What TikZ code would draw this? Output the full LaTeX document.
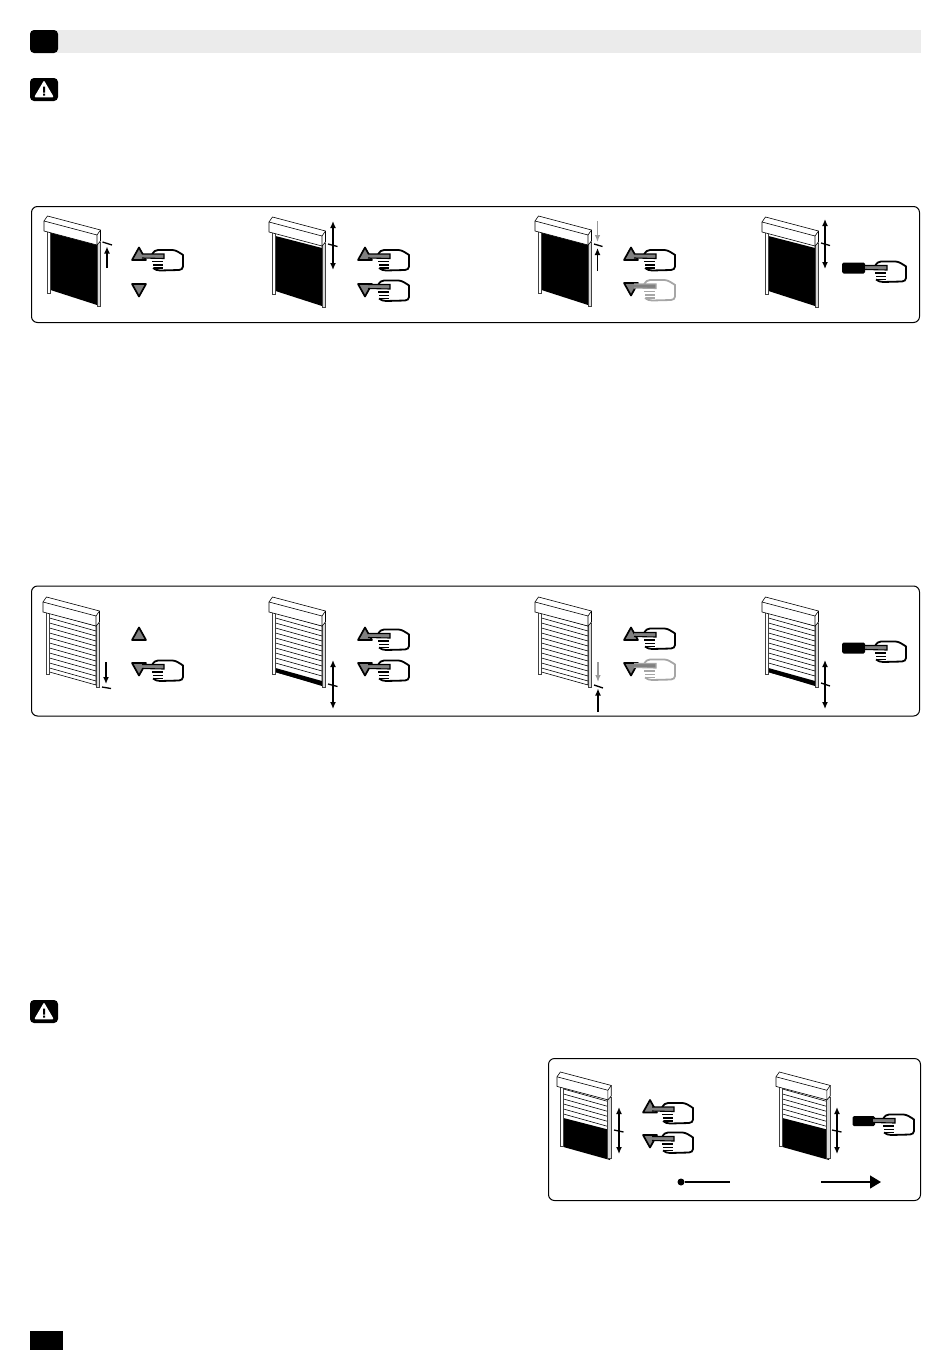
\documentclass[tikz,border=0pt]{standalone}
\usetikzlibrary{arrows.meta}
\begin{document}
\begin{tikzpicture}[
  x=1pt, y=-1pt,
  frame/.style={draw=black, line width=1pt, rounded corners=6pt, fill=white},
  tab/.style={fill=black, rounded corners=4pt},
  thinline/.style={draw=black, line width=0.6pt},
  railline/.style={draw=black!75, line width=0.8pt},
  btnline/.style={draw=black, fill=black!50, line width=1.7pt, line join=round},
  hardarrow/.style={draw=black, line width=1.3pt, -{Latex[length=7pt,width=6pt]}},
  softarrow/.style={draw=black!40, line width=1.2pt, -{Latex[length=7pt,width=5.5pt]}},
  twoway/.style={draw=black, line width=1.3pt, {Latex[length=7pt,width=6pt]}-{Latex[length=7pt,width=6pt]}},
  stopbar/.style={draw=black, line width=1.3pt},
  timeline/.style={draw=black, line width=1.3pt},
  % curtains of the shutter, all drawn from the corner of the housing
  pics/curtainfull/.style={code={
    \fill[black] (6.5,16) -- (53,28) -- (53,89) -- (6.5,74) -- cycle;
  }},
  pics/curtaingap/.style={code={
    \draw[thinline, fill=white] (6.5,15) -- (53,28) -- (53,33) -- (6.5,20) -- cycle;
    \fill[black] (6.5,19) -- (53,31) -- (53,89) -- (6.5,74) -- cycle;
  }},
  pics/curtainslats/.style={code={
    \draw[thinline, fill=white] (6.5,15) -- (53,28) -- (53,88) -- (6.5,75) -- cycle;
    \foreach \s in {0,...,11}
      \draw[thinline] (6.5,{16+\s*5}) -- (53,{29+\s*5});
  }},
  pics/curtainband/.style={code={
    \draw[thinline, fill=white] (6.5,15) -- (53,28) -- (53,88) -- (6.5,75) -- cycle;
    \foreach \s in {0,...,10}
      \draw[thinline] (6.5,{16+\s*5}) -- (53,{29+\s*5});
    \fill[black] (6.5,71) -- (53,84) -- (53,89) -- (6.5,75) -- cycle;
  }},
  pics/curtainhalf/.style={code={
    \draw[thinline, fill=white] (6.5,15) -- (53,28) -- (53,60) -- (6.5,48) -- cycle;
    \foreach \s in {0,...,5}
      \draw[thinline] (6.5,{17+\s*5}) -- (53,{30+\s*5});
    \fill[black] (6.5,46) -- (53,58) -- (53,88) -- (6.5,75) -- cycle;
  }},
  pics/shutter/.style={code={
    \pic {curtain#1};
    \draw[railline, fill=white] (3.5,15) rectangle (6.5,77);
    \draw[railline, fill=black!15] (53,26) rectangle (56.5,90);
    \draw[thinline, fill=white] (3.5,0) -- (56.5,14) -- (56.5,25) -- (53,29)
      -- (0,15) -- (0,5) -- cycle;
    \draw[thinline] (0,5) -- (53,19) -- (56.5,14) (53,19) -- (53,29);
  }},
  pics/btnup/.style={code={
    \draw[btnline] (0,-6.5) -- (7,6) -- (-7,6) -- cycle;
  }},
  pics/btndown/.style={code={
    \draw[btnline] (0,6.5) -- (7,-6) -- (-7,-6) -- cycle;
  }},
  pics/hand/.style={code={
    \draw[draw=#1, fill=white, line width=1.8pt]
      (10,-2) .. controls (12,-5) and (13,-6.5) .. (16,-6.5) -- (30.5,-6.5)
      .. controls (34,-6.5) and (38,-3.5) .. (41,-1.5) -- (41,10)
      .. controls (41,12) and (39,13.5) .. (37,13.5) -- (18,14)
      .. controls (15,14) and (13,13) .. (11,11.5);
    \draw[draw=#1, fill=black!50, line width=1.1pt] (0,-2.5) -- (22,-2.5) -- (22,2) -- (0,1.5);
    \draw[draw=#1, line width=1.7pt] (10,5) -- (21,5) (11,8.5) -- (21,8.5) (12,11.5) -- (21,11.5);
  }},
  pics/warnsign/.style={code={
    \fill[black, rounded corners=4pt] (0,0) rectangle (28,23);
    \draw[white, line join=round, line width=1.6pt, fill=white] (14,4) -- (22.5,18.5) -- (5.5,18.5) -- cycle;
    \fill[black] (13,8.5) rectangle (15,14.5) (13,15.5) rectangle (15,17.5);
  }}
]

\useasboundingbox (0,0) rectangle (950,1357);

% --- Heading strip ---
\fill[black!8] (50,30) rectangle (921,53);
\fill[tab] (30,30) rectangle (58,53);
\pic (warn1) at (30,78) {warnsign};
\pic (warn2) at (30,1000) {warnsign};
\fill[black] (30,1331) rectangle (63,1350);

% --- Frames ---
\node[frame, anchor=north west, minimum width=888pt, minimum height=116pt, inner sep=0pt] (top) at (31,206) {};
\node[frame, anchor=north west, minimum width=888pt, minimum height=130pt, inner sep=0pt] (mid) at (31,585.5) {};
\node[frame, anchor=north west, minimum width=372pt, minimum height=142pt, inner sep=0pt] (low) at (548,1058) {};

% =========================================================
% TOP PANEL
% =========================================================
\pic (s1) at (44,216) {shutter=full};
\pic (s2) at (269,217) {shutter=gap};
\pic (s3) at (535,216) {shutter=full};
\pic (s4) at (762,217) {shutter=gap};

% Buttons
\pic (b1u) at (139,254) {btnup};
\pic (b1d) at (139,290) {btndown};
\pic (b2u) at (365,254) {btnup};
\pic (b2d) at (365,290) {btndown};
\pic (b3u) at (631,254) {btnup};
\pic (b3d) at (631,289) {btndown};
\fill[black, rounded corners=1.5pt] (842,262.5) rectangle (865,273.5);

% Hands
\pic (h1) at (142,256.5) {hand=black};
\pic (h2u) at (368,256.5) {hand=black};
\pic (h2d) at (368,287) {hand=black};
\pic (h3u) at (634,256.5) {hand=black};
\pic (h3d) at (634,286.5) {hand=black!35};
\pic (h4) at (865,268) {hand=black};

% Travel marks
\coordinate (a1s) at (107,268);
\coordinate (a1e) at (107,246.5);
\draw[hardarrow] (a1s) -- (a1e);
\coordinate (t1l) at (102.5,242);
\coordinate (t1r) at (112,245);
\draw[stopbar] (t1l) -- (t1r);

\coordinate (a2s) at (333,221);
\coordinate (a2e) at (333,270);
\draw[twoway] (a2s) -- (a2e);
\coordinate (t2l) at (328,244);
\coordinate (t2r) at (337.5,246.5);
\draw[stopbar] (t2l) -- (t2r);

\coordinate (a3s) at (597.5,221);
\coordinate (a3e) at (597.5,242);
\draw[softarrow] (a3s) -- (a3e);
\coordinate (a3t) at (597.5,271);
\coordinate (a3b) at (597.5,248);
\draw[hardarrow] (a3t) -- (a3b);
\coordinate (t3l) at (594,244);
\coordinate (t3r) at (602.5,246.5);
\draw[stopbar] (t3l) -- (t3r);

\coordinate (a4s) at (825,219);
\coordinate (a4e) at (825,269);
\draw[twoway] (a4s) -- (a4e);
\coordinate (t4l) at (821,243);
\coordinate (t4r) at (830,245.5);
\draw[stopbar] (t4l) -- (t4r);

% =========================================================
% MIDDLE PANEL
% =========================================================
\pic (s5) at (43,597) {shutter=slats};
\pic (s6) at (269,597) {shutter=band};
\pic (s7) at (535,597) {shutter=slats};
\pic (s8) at (762,597) {shutter=band};

% Buttons
\pic (b5u) at (139,634) {btnup};
\pic (b5d) at (139,669) {btndown};
\pic (b6u) at (365,634) {btnup};
\pic (b6d) at (365,669) {btndown};
\pic (b7u) at (631,634) {btnup};
\pic (b7d) at (631,669) {btndown};
\fill[black, rounded corners=1.5pt] (842,642.5) rectangle (865,653.5);

% Hands
\pic (h5) at (142,667) {hand=black};
\pic (h6u) at (368,636) {hand=black};
\pic (h6d) at (368,667) {hand=black};
\pic (h7u) at (634,635) {hand=black};
\pic (h7d) at (634,666) {hand=black!35};
\pic (h8) at (865,648) {hand=black};

% Travel marks
\coordinate (a5s) at (106,662);
\coordinate (a5e) at (106,684);
\draw[hardarrow] (a5s) -- (a5e);
\coordinate (t5l) at (102,687);
\coordinate (t5r) at (111,688.5);
\draw[stopbar] (t5l) -- (t5r);

\coordinate (a6s) at (333,660);
\coordinate (a6e) at (333,709);
\draw[twoway] (a6s) -- (a6e);
\coordinate (t6l) at (328,684);
\coordinate (t6r) at (337.5,686.5);
\draw[stopbar] (t6l) -- (t6r);

\coordinate (a7s) at (598,662);
\coordinate (a7e) at (598,682);
\draw[softarrow] (a7s) -- (a7e);
\coordinate (a7t) at (598,712);
\coordinate (a7b) at (598,688.5);
\draw[hardarrow] (a7t) -- (a7b);
\coordinate (t7l) at (594,685);
\coordinate (t7r) at (603,688);
\draw[stopbar] (t7l) -- (t7r);

\coordinate (a8s) at (825,660);
\coordinate (a8e) at (825,709);
\draw[twoway] (a8s) -- (a8e);
\coordinate (t8l) at (821,683);
\coordinate (t8r) at (830,686);
\draw[stopbar] (t8l) -- (t8r);

% =========================================================
% LOWER PANEL
% =========================================================
\pic[scale=0.96] (s9) at (557,1072) {shutter=half};
\pic[scale=0.96] (s10) at (776,1072) {shutter=half};

\pic (b9u) at (650,1106.5) {btnup};
\pic (b9d) at (650,1141) {btndown};
\fill[black, rounded corners=1.5pt] (852.5,1116) rectangle (875,1126);

\pic (h9u) at (652,1109.5) {hand=black};
\pic (h9d) at (652,1139) {hand=black};
\pic (h10) at (873,1121) {hand=black};

\coordinate (a9s) at (619,1107);
\coordinate (a9e) at (619,1154);
\draw[twoway] (a9s) -- (a9e);
\coordinate (t9l) at (614,1130);
\coordinate (t9r) at (623.5,1132);
\draw[stopbar] (t9l) -- (t9r);

\coordinate (a10s) at (837,1107);
\coordinate (a10e) at (837,1154);
\draw[twoway] (a10s) -- (a10e);
\coordinate (t10l) at (832,1130);
\coordinate (t10r) at (841.5,1132);
\draw[stopbar] (t10l) -- (t10r);

% Time line, in two pieces
\node[circle, fill=black, inner sep=0pt, minimum size=7pt] (dot) at (681,1182) {};
\coordinate (lineend) at (730,1182);
\draw[timeline] (dot) -- (lineend);
\coordinate (arrowfrom) at (821,1182);
\coordinate (arrowto) at (881,1182);
\draw[timeline, -{Triangle[length=11pt,width=13pt]}] (arrowfrom) -- (arrowto);

\end{tikzpicture}
\end{document}
